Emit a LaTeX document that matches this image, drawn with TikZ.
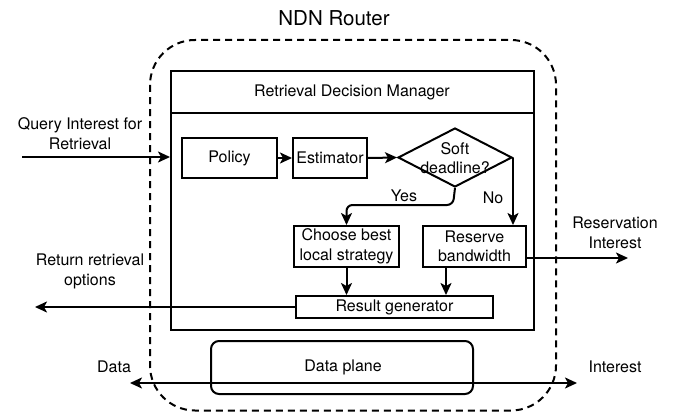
\documentclass[tikz,border=0pt]{standalone}
\usepackage{fontspec}
\setmainfont{TeX Gyre Heros}
\usetikzlibrary{arrows.meta,shapes.geometric}
\begin{document}
\begin{tikzpicture}[x=1pt,y=-1pt,
  every node/.style={font=\fontsize{16}{19.5}\selectfont},
  box/.style={draw,line width=2pt,inner sep=0pt},
  txt/.style={inner sep=0pt,align=center},
  arr/.style={line width=2pt,-{Stealth[length=12pt,width=11pt,inset=3pt]}},
  darr/.style={line width=2pt,{Stealth[length=12pt,width=11pt,inset=3pt]}-{Stealth[length=12pt,width=11pt,inset=3pt]}},
  router/.style={draw,line width=2pt,dash pattern=on 7pt off 5pt,rounded corners=45pt}]
\useasboundingbox (0,0) rectangle (683,412);
% outer router
\draw[router] (150,40) rectangle (556,410.5);
\node[txt,font=\fontsize{20.5}{24}\selectfont] (title) at (334,18) {NDN Router};
% Retrieval Decision Manager
\node[box,minimum width=363pt,minimum height=259pt] (rdm) at (352.5,200.5) {};
\coordinate (hdl) at (171,113);
\draw[line width=2pt] (hdl) -- (hdl -| rdm.east);
\node[txt] (rdmtitle) at (352,92) {Retrieval Decision Manager};
% inner boxes
\node[box,minimum width=95pt,minimum height=40pt] (policy) at (229.5,158) {Policy};
\node[box,minimum width=74pt,minimum height=40pt] (est) at (330,158) {Estimator};
\node[draw,diamond,line width=2pt,inner sep=0pt,minimum width=114pt,minimum height=59pt] (dec) at (455,157.5) {};
\node[txt] (dectxt) at (455,158) {Soft\\deadline?};
\node[box,minimum width=105pt,minimum height=41pt,align=center] (choose) at (346.5,246.5) {Choose best\\local strategy};
\node[box,minimum width=103pt,minimum height=41pt,align=center] (res) at (474.5,246.5) {Reserve\\bandwidth};
\node[box,minimum width=197pt,minimum height=22pt] (result) at (394.5,307) {Result generator};
% data plane
\node[draw,line width=2pt,rounded corners=8pt,minimum width=262pt,minimum height=53pt,inner sep=0pt] (dp) at (342,367.5) {};
\node[txt] (dptxt) at (343,367) {Data plane};
% connectors
\draw[arr] (policy.east) -- (est.west);
\draw[arr] (est.east) -- (dec.west);
\coordinate (yesbend) at (453,205);
\draw[arr,rounded corners=6pt] (dec.south) -- (yesbend) -| (choose.north);
\draw[arr] (dec.east) -- (dec.east |- res.north);
\node[txt] (yes) at (404,196) {Yes};
\node[txt] (no) at (493,198) {No};
\draw[arr] (choose.south) -- (choose.south |- result.north);
\coordinate (resdown) at (446,267);
\draw[arr] (resdown) -- (resdown |- result.north);
% external arrows
\coordinate (qstart) at (22,157);
\draw[arr] (qstart) -- (qstart -| rdm.west);
\node[txt] (qtxt) at (80,133.5) {Query Interest for\\Retrieval};
\coordinate (retend) at (35,307);
\draw[arr] (result.west) -- (retend);
\node[txt] (rettxt) at (90,271.5) {Return retrieval\\options};
\coordinate (resvend) at (628,258);
\draw[arr] (res.east |- resvend) -- (resvend);
\node[txt] (resvtxt) at (615,233) {Reservation\\Interest};
\coordinate (dleft) at (130,383);
\coordinate (dright) at (577,383);
\draw[darr] (dleft) -- (dright);
\node[txt] (datatxt) at (114,367) {Data};
\node[txt] (inttxt) at (615,367) {Interest};
\end{tikzpicture}
\end{document}
